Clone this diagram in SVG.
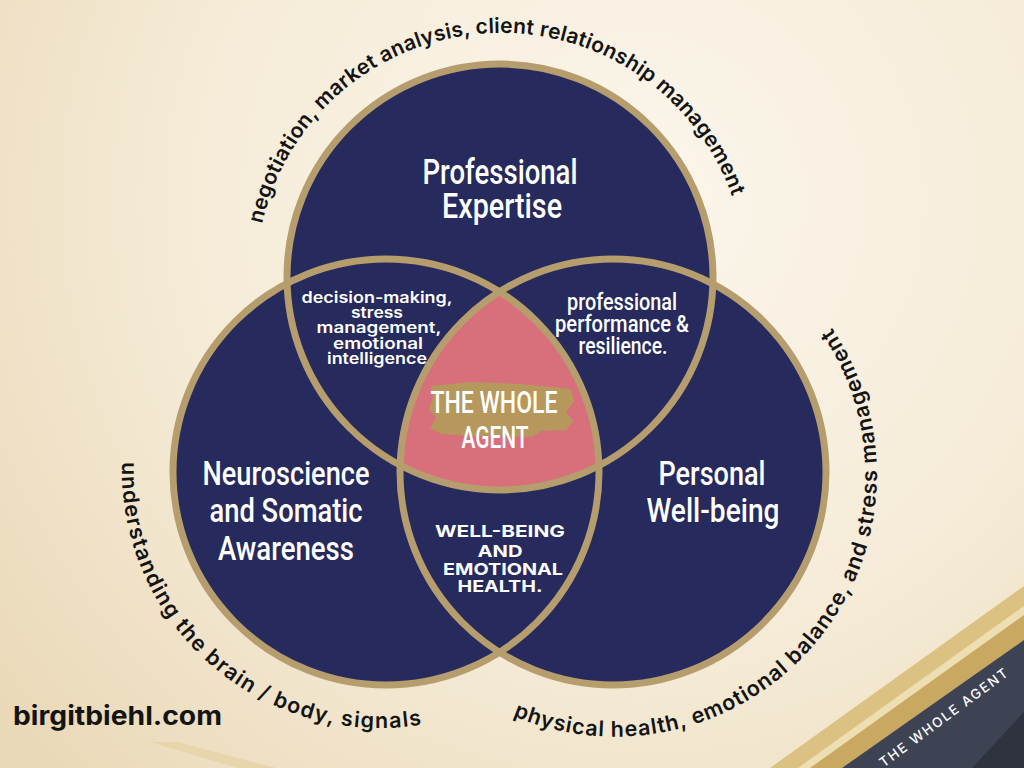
<svg xmlns="http://www.w3.org/2000/svg" width="1024" height="768" viewBox="0 0 1024 768">
<defs>
  <radialGradient id="bg" cx="640" cy="200" r="820" gradientUnits="userSpaceOnUse">
    <stop offset="0" stop-color="#fbf6ec"/>
    <stop offset="0.55" stop-color="#f5ebd7"/>
    <stop offset="1" stop-color="#ead9b8"/>
  </radialGradient>
  <path id="arcTop" d="M 262,224 A 245 245 0 0 1 740,224"/>
  <path id="arcRight" d="M 513,716 A 262 262 0 0 0 830,325"/>
  <path id="arcLeft" d="M 122,462 A 258 258 0 0 0 423,724.4"/>
  <style>
    .ring{fill:none;stroke:#b59d6d;stroke-width:7}
    .disc{fill:#262a5c}
    .title{font-family:Roboto,"Liberation Sans",sans-serif;font-weight:500;fill:#ffffff;text-anchor:middle}
    .small{font-family:Inter,"Open Sans",sans-serif;font-weight:600;fill:#ffffff;text-anchor:middle}
    .caps{font-family:Inter,"Open Sans",sans-serif;font-weight:700;fill:#ffffff;text-anchor:middle;font-size:16.5px}
    .arc{font-family:Inter,"Open Sans",sans-serif;font-weight:600;fill:#141414}
  </style>
</defs>

<rect x="0" y="0" width="1024" height="768" fill="url(#bg)"/>

<!-- decorative corner -->
<g id="corner">
  <polygon points="150,742 178,742 276,768 238,768" fill="#e3cf9c" opacity="0.6"/>
  <polygon points="770,768 1024,586 1024,768" fill="#dcc282"/>
  <polygon points="798,768 1024,606 1024,768" fill="#eedfb2"/>
  <polygon points="810,768 1024,615 1024,768" fill="#c9a862"/>
  <polygon points="842,768 1024,640 1024,768" fill="#3e4354"/>
  <polygon points="972,768 1024,712 1024,768" fill="#2f333f"/>
  <text x="944" y="722" transform="rotate(-36.5 944 717)" font-family="Inter,'Open Sans',sans-serif" font-size="13.5" font-weight="500" fill="#ffffff" text-anchor="middle" letter-spacing="1.8">THE WHOLE AGENT</text>
</g>

<!-- filled discs -->
<g id="discs">
  <circle class="disc" cx="500" cy="277" r="213"/>
  <circle class="disc" cx="386" cy="472" r="213"/>
  <circle class="disc" cx="613" cy="472" r="213"/>
</g>

<!-- centre intersection -->
<g id="center">
  <path d="M 499.5,291.8 A 213 213 0 0 1 598.9,465.6 A 213 213 0 0 1 400.2,465.1 A 213 213 0 0 1 499.5,291.8 Z" fill="#d8707b"/>
  <polygon points="431,386 470,382 520,384 571,389 574,401 566,412 573,421 566,430 541,431 532,437 470,436 441,434 430,428 436,418 429,409 433,398" fill="#b6985c"/>
  <text class="title" x="494" y="413" font-size="32" textLength="127" lengthAdjust="spacingAndGlyphs">THE WHOLE</text>
  <text class="title" x="495" y="448" font-size="32" textLength="67" lengthAdjust="spacingAndGlyphs">AGENT</text>
</g>

<!-- rings -->
<g id="rings">
  <circle class="ring" cx="500" cy="277" r="213"/>
  <circle class="ring" cx="386" cy="472" r="213"/>
  <circle class="ring" cx="613" cy="472" r="213"/>
</g>

<g id="professional-expertise">
  <text class="title" x="500" y="184" font-size="35" textLength="155" lengthAdjust="spacingAndGlyphs">Professional</text>
  <text class="title" x="502" y="218" font-size="35" textLength="120" lengthAdjust="spacingAndGlyphs">Expertise</text>
</g>

<g id="neuroscience">
  <text class="title" x="286" y="485" font-size="34" textLength="167" lengthAdjust="spacingAndGlyphs">Neuroscience</text>
  <text class="title" x="286" y="522" font-size="34" textLength="153" lengthAdjust="spacingAndGlyphs">and Somatic</text>
  <text class="title" x="286" y="560" font-size="34" textLength="136" lengthAdjust="spacingAndGlyphs">Awareness</text>
</g>

<g id="personal-wellbeing">
  <text class="title" x="712" y="485" font-size="34" textLength="107" lengthAdjust="spacingAndGlyphs">Personal</text>
  <text class="title" x="713" y="522" font-size="34" textLength="133" lengthAdjust="spacingAndGlyphs">Well-being</text>
</g>

<g id="overlap-top-left">
  <text class="small" x="377" y="303" font-size="15.5" textLength="151" lengthAdjust="spacingAndGlyphs">decision-making,</text>
  <text class="small" x="377" y="318" font-size="15.5" textLength="52" lengthAdjust="spacingAndGlyphs">stress</text>
  <text class="small" x="379" y="333" font-size="15.5" textLength="125" lengthAdjust="spacingAndGlyphs">management,</text>
  <text class="small" x="378" y="349" font-size="15.5" textLength="90" lengthAdjust="spacingAndGlyphs">emotional</text>
  <text class="small" x="377" y="364" font-size="15.5" textLength="100" lengthAdjust="spacingAndGlyphs">intelligence</text>
</g>

<g id="overlap-top-right">
  <text class="title" x="622" y="310" font-size="23" textLength="110" lengthAdjust="spacingAndGlyphs">professional</text>
  <text class="title" x="622" y="332" font-size="23" textLength="134" lengthAdjust="spacingAndGlyphs">performance &amp;</text>
  <text class="title" x="623" y="354" font-size="23" textLength="89" lengthAdjust="spacingAndGlyphs">resilience.</text>
</g>

<g id="overlap-bottom">
  <text class="caps" x="500" y="537" textLength="130" lengthAdjust="spacingAndGlyphs">WELL-BEING</text>
  <text class="caps" x="500" y="557" textLength="45" lengthAdjust="spacingAndGlyphs">AND</text>
  <text class="caps" x="503" y="575" textLength="120" lengthAdjust="spacingAndGlyphs">EMOTIONAL</text>
  <text class="caps" x="500" y="592" textLength="85" lengthAdjust="spacingAndGlyphs">HEALTH.</text>
</g>

<g id="arc-labels">
  <text class="arc" font-size="21"><textPath href="#arcTop" textLength="632">negotiation, market analysis, client relationship management</textPath></text>
  <text class="arc" font-size="21.5"><textPath href="#arcRight" textLength="672">physical health, emotional balance, and stress management</textPath></text>
  <text class="arc" font-size="21.5"><textPath href="#arcLeft" textLength="455">understanding the brain / body, signals</textPath></text>
</g>

<g id="website">
  <text x="13" y="725" font-family="Inter,'Open Sans',sans-serif" font-size="26" font-weight="700" fill="#141414" textLength="209" lengthAdjust="spacingAndGlyphs">birgitbiehl.com</text>
</g>
</svg>
